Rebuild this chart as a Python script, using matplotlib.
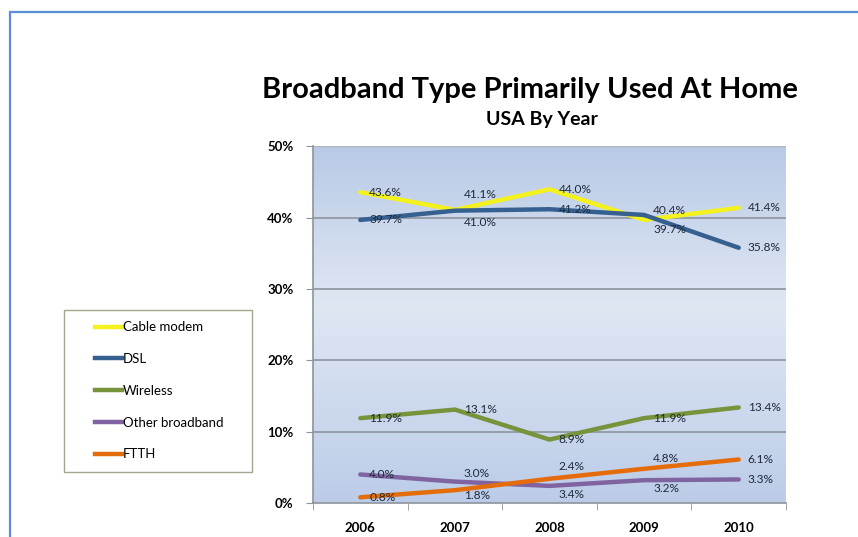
import matplotlib.pyplot as plt
import numpy as np
from matplotlib.colors import LinearSegmentedColormap
from matplotlib.patches import Rectangle
from matplotlib.lines import Line2D

years = ["2006", "2007", "2008", "2009", "2010"]

cable_modem = [43.6, 41.1, 44.0, 39.7, 41.4]
dsl = [39.7, 41.0, 41.2, 40.4, 35.8]
wireless = [11.9, 13.1, 8.9, 11.9, 13.4]
other_broadband = [4.0, 3.0, 2.4, 3.2, 3.3]
ftth = [0.8, 1.8, 3.4, 4.8, 6.1]

series_names = ["Cable modem", "DSL", "Wireless", "Other broadband", "FTTH"]
series_values = [cable_modem, dsl, wireless, other_broadband, ftth]
series_colors = ["#f4f21c", "#36608f", "#77933c", "#8064a2", "#e46c0a"]

# vertical nudge of each data label (pixels, positive = up) so they don't collide
label_dy = [
    [0, 15, 0, -10, 0],
    [0, -12, 0, 4, 0],
    [0, 0, 0, 0, 0],
    [0, 8, 19, -8, 0],
    [0, -5, -16, 10, 0],
]

plt.rcParams["font.family"] = ["Lato", "DejaVu Sans"]

fig = plt.figure(figsize=(8.58, 5.37), dpi=100)
fig.patch.set_facecolor("white")

# outer chart frame (only left and top edges are visible)
fig.patches.append(Rectangle((10 / 858, -0.2), 1.2, 1.2 - 12 / 537,
                             transform=fig.transFigure, fill=False,
                             edgecolor="#5b8dd9", linewidth=1.6))

ax = fig.add_axes([313 / 858, 1 - 503 / 537, 473 / 858, 356.5 / 537])
x = np.arange(len(years))

# plot area gradient
grad = LinearSegmentedColormap.from_list(
    "plotbg", [(0.0, "#bccce8"), (0.55, "#dfe7f3"), (1.0, "#b9cae6")])
ax.imshow(np.linspace(0, 1, 256).reshape(-1, 1), cmap=grad, aspect="auto",
          extent=[-0.5, 4.5, 0, 50], origin="lower", zorder=0)

for yv in range(10, 50, 10):
    ax.axhline(yv, color="#8e949c", linewidth=1.2, zorder=1)
ax.axhline(50, color="#b0b4ba", linewidth=1.0, zorder=1)

for name, vals, col, dys in zip(series_names, series_values, series_colors, label_dy):
    ax.plot(x, vals, color=col, linewidth=3.2, solid_capstyle="round",
            solid_joinstyle="round", zorder=3, label=name)
    for xi, v, dy in zip(x, vals, dys):
        ax.annotate(f"{v:.1f}%", (xi, v), xytext=(9, dy), textcoords="offset pixels",
                    ha="left", va="center", fontsize=8.6, color="#1f2a3a", zorder=4)

ax.set_xlim(-0.5, 4.5)
ax.set_ylim(0, 50)
ax.set_yticks(range(0, 51, 10))
ax.set_yticklabels([f"{t}%" for t in range(0, 51, 10)], fontweight="bold", fontsize=9.5)
ax.set_xticks(x)
ax.set_xticklabels(years, fontweight="bold", fontsize=9.5)
ax.set_xticks(np.arange(-0.5, 5, 1), minor=True)
ax.tick_params(axis="x", which="major", length=0, pad=14)
ax.tick_params(axis="x", which="minor", length=5, color="#8e949c", direction="out")
ax.tick_params(axis="y", length=5, color="#8e949c", pad=9)

for side in ["top", "right"]:
    ax.spines[side].set_visible(False)
for side in ["left", "bottom"]:
    ax.spines[side].set_color("#8e949c")
    ax.spines[side].set_linewidth(1.2)

fig.text(530 / 858, 1 - 90 / 537, "Broadband Type Primarily Used At Home", ha="center",
         va="center", fontsize=21, fontweight="bold", color="black")
fig.text(542 / 858, 1 - 119 / 537, "USA By Year", ha="center", va="center",
         fontsize=14, fontweight="bold", color="black")

# legend box
fig.patches.append(Rectangle((64 / 858, 1 - 472 / 537), 188 / 858, 162 / 537,
                             transform=fig.transFigure, facecolor="white",
                             edgecolor="#a6a68e", linewidth=1.0))
handles = [Line2D([0], [0], color=c, linewidth=3.2) for c in series_colors]
fig.legend(handles, series_names, loc="upper left",
           bbox_to_anchor=(86 / 858, 1 - 312 / 537), frameon=False,
           fontsize=9.5, handlelength=2.0, handletextpad=0.1, labelspacing=1.5,
           borderpad=0.2)

fig.savefig("out.png", dpi=100)
